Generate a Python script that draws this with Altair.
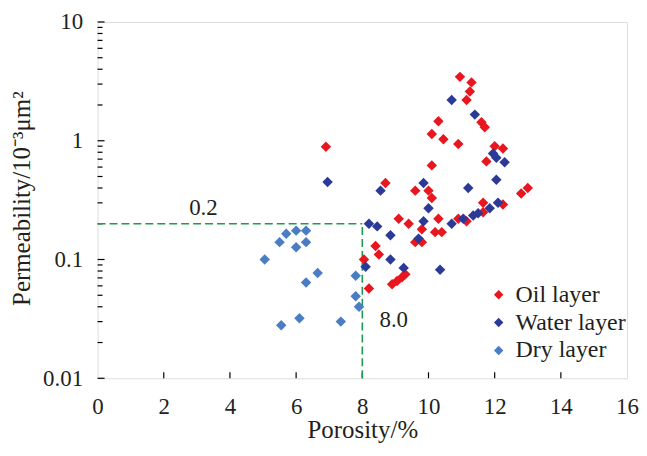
import altair as alt
import pandas as pd

# ---------------- data ----------------
oil_x = [6.9, 8.7, 9.6, 10.0, 10.1, 9.1, 9.4, 10.3, 9.8, 10.2, 10.4, 9.6, 9.8, 10.9,
         8.4, 8.5, 8.05, 8.2, 8.9, 9.05, 9.2, 9.3, 10.95, 11.3, 11.25, 11.15, 11.6,
         11.7, 10.3, 10.1, 10.45, 10.9, 12.0, 12.25, 11.75, 10.1, 12.8, 13.0, 11.65,
         12.25, 11.15, 11.65]
oil_y = [0.89, 0.44, 0.38, 0.38, 0.33, 0.22, 0.20, 0.22, 0.18, 0.17, 0.17, 0.14, 0.14, 0.22,
         0.13, 0.11, 0.10, 0.057, 0.062, 0.066, 0.071, 0.075, 3.45, 3.1, 2.6, 2.2, 1.43,
         1.3, 1.46, 1.14, 1.03, 0.94, 0.9, 0.86, 0.67, 0.62, 0.36, 0.40, 0.30,
         0.29, 0.21, 0.25]

water_x = [6.95, 8.55, 9.85, 10.0, 8.2, 8.45, 9.85, 10.7, 11.05, 11.35, 11.5, 8.85, 9.7,
           8.1, 8.85, 9.25, 10.35, 10.7, 11.4, 11.95, 12.05, 12.3, 12.05, 11.2, 12.1, 11.85]
water_y = [0.45, 0.38, 0.44, 0.27, 0.20, 0.19, 0.21, 0.20, 0.22, 0.235, 0.245, 0.16, 0.15,
           0.087, 0.10, 0.085, 0.082, 2.2, 1.66, 0.78, 0.72, 0.66, 0.47, 0.40, 0.30, 0.27]

dry_x = [5.05, 5.5, 5.7, 6.0, 6.3, 6.0, 6.3, 6.65, 6.3, 7.8, 7.8, 7.9, 6.1, 5.55, 7.35]
dry_y = [0.10, 0.14, 0.165, 0.175, 0.175, 0.127, 0.14, 0.077, 0.064, 0.073, 0.049, 0.040,
         0.032, 0.028, 0.030]

series_names = ["Oil layer", "Water layer", "Dry layer"]
series_colors = ["#E8161E", "#2C3A97", "#4A7DC3"]

x_tick_values = [0, 2, 4, 6, 8, 10, 12, 14, 16]
y_tick_values = [0.01, 0.1, 1, 10]
y_minor_values = [0.02, 0.03, 0.04, 0.05, 0.06, 0.07, 0.08, 0.09,
                  0.2, 0.3, 0.4, 0.5, 0.6, 0.7, 0.8, 0.9,
                  2, 3, 4, 5, 6, 7, 8, 9]

# cut-off lines: porosity 8.0 %, permeability 0.2
cut_x = [0, 8]
cut_x2 = [8, 8]
cut_y = [0.2, 0.01]
cut_y2 = [0.2, 0.2]

notes_text = ["0.2", "8.0"]
notes_x = [3.2, 8.95]
notes_y = [0.27, 0.031]

# ---------------- tables ----------------
pts = pd.concat([
    pd.DataFrame({"porosity": oil_x, "perm": oil_y, "layer": series_names[0]}),
    pd.DataFrame({"porosity": water_x, "perm": water_y, "layer": series_names[1]}),
    pd.DataFrame({"porosity": dry_x, "perm": dry_y, "layer": series_names[2]}),
], ignore_index=True)
pts["ord"] = range(len(pts))

cut_df = pd.DataFrame({"porosity": cut_x, "porosity2": cut_x2, "perm": cut_y, "perm2": cut_y2})
notes_df = pd.DataFrame({"porosity": notes_x, "perm": notes_y, "label": notes_text})
ymaj_df = pd.DataFrame({"perm": y_tick_values})
ymin_df = pd.DataFrame({"perm": y_minor_values})
xt_df = pd.DataFrame({"porosity": x_tick_values[1:-1]})

FONT = "Liberation Serif"
TXT = "#231F20"
GREEN = "#1E9A55"
W, H = 532, 358
FS = 23
TFS = 25

xs = alt.Scale(domain=[0, 16], nice=False, zero=False)
ys = alt.Scale(type="log", domain=[0.01, 10], nice=False)
XT = "Porosity/%"
YT = "Permeability/10⁻³μm²"

x_axis = alt.Axis(values=x_tick_values, title=XT, grid=False, ticks=False, tickSize=0,
                  domain=False, labelFont=FONT, labelFontSize=FS, labelColor=TXT,
                  labelPadding=17, labelFlush=False, labelOverlap=False,
                  titleFont=FONT, titleFontSize=TFS, titleFontWeight="normal", titleColor=TXT,
                  titleBaseline="alphabetic", titleX=266, titleY=60)
y_axis = alt.Axis(values=y_tick_values, format="~g", title=YT, grid=False, ticks=False,
                  tickSize=0, domain=False, labelFont=FONT, labelFontSize=FS, labelColor=TXT,
                  labelPadding=15, labelFlush=False, labelOverlap=False,
                  titleFont=FONT, titleFontSize=TFS, titleFontWeight="normal", titleColor=TXT,
                  titleX=-63, titleY=177)

points = alt.Chart(pts).mark_point(shape="diamond", filled=True, size=110, opacity=1,
                                   strokeWidth=0).encode(
    x=alt.X("porosity:Q", scale=xs, axis=x_axis, title=XT),
    y=alt.Y("perm:Q", scale=ys, axis=y_axis, title=YT),
    color=alt.Color("layer:N", scale=alt.Scale(domain=series_names, range=series_colors),
                    legend=alt.Legend(orient="none", legendX=391, legendY=262, title=None,
                                      symbolType="diamond", symbolSize=90,
                                      symbolStrokeWidth=0, symbolOpacity=1,
                                      labelFont=FONT, labelFontSize=24, labelColor=TXT,
                                      labelOffset=5, rowPadding=4, padding=0)),
    order=alt.Order("ord:Q"),
)

cut = alt.Chart(cut_df).mark_rule(color=GREEN, strokeWidth=1.6, strokeDash=[8, 4]).encode(
    x=alt.X("porosity:Q", scale=xs, title=XT), x2="porosity2:Q",
    y=alt.Y("perm:Q", scale=ys, title=YT), y2="perm2:Q",
)

notes = alt.Chart(notes_df).mark_text(font=FONT, fontSize=FS, color=TXT).encode(
    x=alt.X("porosity:Q", scale=xs, title=XT),
    y=alt.Y("perm:Q", scale=ys, title=YT),
    text="label:N",
)

ymaj = alt.Chart(ymaj_df).mark_rule(color="black", strokeWidth=1.2).encode(
    y=alt.Y("perm:Q", scale=ys, title=YT), x=alt.value(0), x2=alt.value(7))
ymin = alt.Chart(ymin_df).mark_rule(color="black", strokeWidth=1.2).encode(
    y=alt.Y("perm:Q", scale=ys, title=YT), x=alt.value(0), x2=alt.value(5))
xt = alt.Chart(xt_df).mark_rule(color="black", strokeWidth=1.2).encode(
    x=alt.X("porosity:Q", scale=xs, title=XT), y=alt.value(H), y2=alt.value(H - 6))

chart = alt.layer(ymaj, ymin, xt, cut, points, notes).properties(
    width=W, height=H,
    autosize=alt.AutoSizeParams(type="none"),
    padding={"left": 90, "top": 13, "right": 12, "bottom": 66},
).configure_view(stroke="black", strokeWidth=1.5).configure(background="white")

chart.save("out.html", embed_options={"renderer": "svg", "actions": False})
